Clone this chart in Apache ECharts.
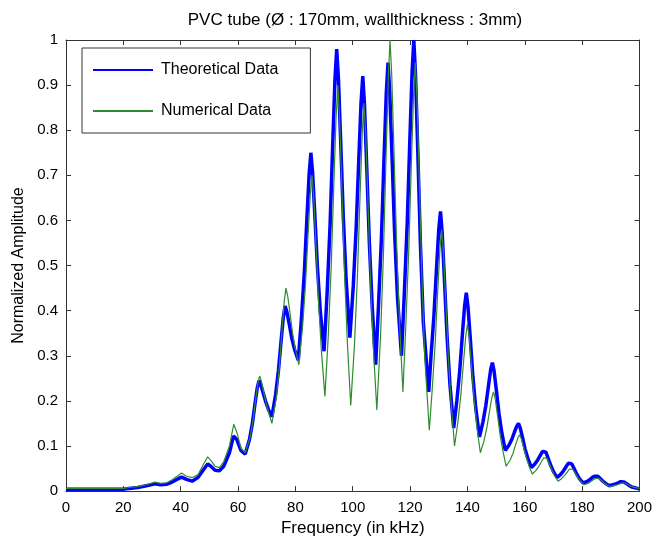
<!DOCTYPE html>
<html>
<head>
<meta charset="utf-8">
<script src="https://cdn.jsdelivr.net/npm/echarts@6/dist/echarts.min.js"></script>
<style>html,body{margin:0;padding:0;background:#fff}#c{width:655px;height:542px}</style>
</head>
<body>
<div id="c"></div>
<script>
var titleText = 'PVC tube (Ø : 170mm, wallthickness : 3mm)';
var xName = 'Frequency (in kHz)';
var yName = 'Normalized Amplitude';
var seriesNames = ['Theoretical Data', 'Numerical Data'];

var thFreq = [0,10,20,22,25,28,31,33,35,37,39,40.3,42,44,46,48,49.4,50.5,52,53.5,55,57,58.4,59.5,61,62.5,
  64.0,65.0,65.9,66.7,67.3,67.9,68.7,69.6,70.6,71.8,
  73.1,74.1,75.0,75.8,76.4,77.0,77.8,78.7,79.7,81,
  82.1,83.1,84.0,84.8,85.4,86.0,86.8,87.7,88.7,90,
  91.1,92.1,93.0,93.8,94.4,95.0,95.8,96.7,97.7,99,
  100.2,101.2,102.1,102.9,103.5,104.1,104.9,105.8,106.8,108,
  109.0,110.0,110.9,111.7,112.3,112.9,113.7,114.6,115.6,117,
  118.0,119.0,119.9,120.7,121.3,121.9,122.7,123.6,124.6,126.5,
  127.3,128.3,129.2,130.0,130.6,131.2,132.0,132.9,133.9,135.2,
  136.3,137.3,138.2,139.0,139.6,140.2,141.0,141.9,142.9,144.2,
  145.4,146.4,147.3,148.1,148.7,149.3,150.1,151.0,152.0,153.2,
  154.5,155.5,156.4,157.2,157.8,158.4,159.2,160.1,161.1,162.3,
  163.5,164.5,165.4,166.2,166.8,167.4,168.2,169.1,170.1,171.3,
  172.5,173.5,174.4,175.2,175.8,176.4,177.2,178.1,179.1,180.3,
  181.6,182.6,183.5,184.3,184.9,185.5,186.3,187.2,188.2,189.5,
  190.7,191.7,192.6,193.4,194.0,194.6,195.4,196.3,197.3,200];
var thAmp = [0.004,0.004,0.004,0.006,0.008,0.012,0.016,0.014,0.015,0.02,0.027,0.031,0.026,0.022,0.03,0.048,0.06,0.055,0.046,0.045,0.055,0.085,0.122,0.115,0.09,0.082,
  0.115,0.150,0.193,0.229,0.245,0.237,0.219,0.199,0.181,0.165,
  0.214,0.268,0.332,0.386,0.41,0.398,0.372,0.340,0.314,0.29,
  0.382,0.483,0.603,0.704,0.75,0.706,0.609,0.495,0.398,0.31,
  0.444,0.591,0.766,0.913,0.98,0.916,0.775,0.609,0.468,0.34,
  0.456,0.584,0.734,0.862,0.92,0.856,0.715,0.549,0.408,0.28,
  0.414,0.561,0.736,0.883,0.95,0.885,0.742,0.573,0.43,0.30,
  0.44,0.594,0.776,0.93,1.0,0.922,0.75,0.548,0.376,0.22,
  0.30,0.388,0.492,0.58,0.62,0.572,0.466,0.342,0.236,0.14,
  0.20,0.266,0.344,0.41,0.44,0.408,0.338,0.254,0.184,0.12,
  0.153,0.189,0.232,0.269,0.285,0.266,0.223,0.172,0.129,0.09,
  0.102,0.115,0.131,0.144,0.15,0.14,0.119,0.093,0.072,0.052,
  0.06,0.069,0.079,0.088,0.092,0.086,0.072,0.056,0.042,0.03,
  0.037,0.045,0.054,0.062,0.065,0.06,0.05,0.038,0.027,0.018,
  0.021,0.025,0.03,0.033,0.035,0.033,0.028,0.022,0.017,0.012,
  0.014,0.016,0.018,0.021,0.022,0.02,0.017,0.013,0.009,0.005];

var numFreq = [0,10,20,22,25,28,31,33,35,37,39,40.3,42,44,46,48,49.4,50.5,52,53.5,55,57,58.5,59.6,61,62.5,
  64.2,65.2,66.1,66.9,67.5,68.1,68.9,69.8,70.8,71.8,
  73.4,74.4,75.3,76.1,76.7,77.3,78.1,79.0,80.0,81.2,
  82.5,83.5,84.4,85.2,85.8,86.4,87.2,88.1,89.1,90.3,
  91.5,92.5,93.4,94.2,94.8,95.4,96.2,97.1,98.1,99.3,
  100.6,101.6,102.5,103.3,103.9,104.5,105.3,106.2,107.2,108.4,
  109.7,110.7,111.6,112.4,113.0,113.6,114.4,115.3,116.3,117.5,
  118.5,119.5,120.4,121.2,121.8,122.4,123.2,124.1,125.1,126.7,
  127.7,128.7,129.6,130.4,131.0,131.6,132.4,133.3,134.3,135.5,
  136.7,137.7,138.6,139.4,140.0,140.6,141.4,142.3,143.3,144.5,
  145.8,146.8,147.7,148.5,149.1,149.7,150.5,151.4,152.4,153.5,
  154.9,155.9,156.8,157.6,158.2,158.8,159.6,160.5,161.5,162.6,
  163.9,164.9,165.8,166.6,167.2,167.8,168.6,169.5,170.5,171.6,
  172.9,173.9,174.8,175.6,176.2,176.8,177.6,178.5,179.5,180.6,
  182.0,183.0,183.9,184.7,185.3,185.9,186.7,187.6,188.6,189.8,
  191.1,192.1,193.0,193.8,194.4,195.0,195.8,196.7,197.7,200];
var numAmp = [0.006,0.006,0.006,0.008,0.01,0.014,0.02,0.017,0.018,0.025,0.034,0.04,0.033,0.03,0.036,0.06,0.076,0.068,0.055,0.052,0.065,0.1,0.148,0.13,0.095,0.085,
  0.119,0.156,0.201,0.238,0.255,0.245,0.221,0.194,0.171,0.15,
  0.21,0.276,0.354,0.42,0.45,0.433,0.396,0.351,0.314,0.28,
  0.364,0.456,0.566,0.658,0.70,0.651,0.543,0.416,0.308,0.21,
  0.348,0.50,0.679,0.831,0.90,0.829,0.673,0.488,0.332,0.19,
  0.324,0.471,0.646,0.793,0.86,0.792,0.642,0.466,0.316,0.18,
  0.344,0.524,0.738,0.918,1.0,0.922,0.75,0.548,0.376,0.22,
  0.366,0.527,0.716,0.877,0.95,0.869,0.689,0.477,0.298,0.135,
  0.224,0.322,0.438,0.536,0.58,0.532,0.426,0.302,0.196,0.10,
  0.154,0.213,0.284,0.343,0.37,0.342,0.279,0.205,0.142,0.085,
  0.112,0.142,0.177,0.207,0.22,0.204,0.167,0.124,0.088,0.055,
  0.069,0.084,0.103,0.118,0.125,0.116,0.097,0.075,0.055,0.038,
  0.046,0.055,0.065,0.074,0.078,0.072,0.06,0.046,0.033,0.022,
  0.028,0.035,0.042,0.049,0.052,0.048,0.04,0.03,0.022,0.014,
  0.017,0.021,0.025,0.028,0.03,0.028,0.024,0.018,0.014,0.01,
  0.012,0.014,0.016,0.018,0.019,0.018,0.015,0.012,0.009,0.006];

function pairs(xs, ys) { return xs.map(function (x, i) { return [x, ys[i]]; }); }

var FONT = "'Liberation Sans', Arial, Helvetica, sans-serif";
var AX = '#333333';
var chart = echarts.init(document.getElementById('c'), null, {renderer: 'canvas'});
var tickInside = {show: true, inside: true, length: 5, lineStyle: {color: AX, width: 1}};
chart.setOption({
  animation: false,
  backgroundColor: '#ffffff',
  title: {
    text: titleText, left: 350, top: 7, textAlign: 'center',
    textStyle: {fontFamily: FONT, fontSize: 17, fontWeight: 'normal', color: '#000'}
  },
  legend: {
    orient: 'vertical', left: 82, top: 48,
    padding: [14, 32, 14, 10],
    itemWidth: 60, itemHeight: 14, itemGap: 25,
    backgroundColor: '#fff', borderColor: AX, borderWidth: 1, borderRadius: 0,
    itemStyle: {opacity: 0},
    textStyle: {fontFamily: FONT, fontSize: 16, color: '#000', padding: [0, 0, 0, 3]},
    data: seriesNames
  },
  grid: {left: 66, right: 15, top: 40, bottom: 50, containLabel: false},
  xAxis: [{
    type: 'value', min: 0, max: 200, interval: 20, position: 'bottom',
    name: xName, nameLocation: 'middle', nameGap: 28,
    nameTextStyle: {fontFamily: FONT, fontSize: 17, color: '#000'},
    axisLine: {show: true, onZero: false, lineStyle: {color: AX, width: 1}},
    axisTick: tickInside,
    axisLabel: {fontFamily: FONT, fontSize: 15, color: '#000', margin: 9},
    splitLine: {show: false}
  }, {
    type: 'value', min: 0, max: 200, interval: 20, position: 'top',
    axisLine: {show: true, onZero: false, lineStyle: {color: AX, width: 1}},
    axisTick: tickInside, axisLabel: {show: false}, splitLine: {show: false}
  }],
  yAxis: [{
    type: 'value', min: 0, max: 1, interval: 0.1, position: 'left',
    name: yName, nameLocation: 'middle', nameGap: 38,
    nameTextStyle: {fontFamily: FONT, fontSize: 16, color: '#000'},
    axisLine: {show: true, onZero: false, lineStyle: {color: AX, width: 1}},
    axisTick: tickInside,
    axisLabel: {fontFamily: FONT, fontSize: 15, color: '#000', margin: 8},
    splitLine: {show: false}
  }, {
    type: 'value', min: 0, max: 1, interval: 0.1, position: 'right',
    axisLine: {show: true, onZero: false, lineStyle: {color: AX, width: 1}},
    axisTick: tickInside, axisLabel: {show: false}, splitLine: {show: false}
  }],
  series: [{
    name: seriesNames[0], type: 'line', xAxisIndex: 0, yAxisIndex: 0,
    data: pairs(thFreq, thAmp), showSymbol: false, symbol: 'none',
    lineStyle: {color: '#0000ff', width: 3.5}, itemStyle: {color: '#0000ff'}, z: 2
  }, {
    name: seriesNames[1], type: 'line', xAxisIndex: 0, yAxisIndex: 0,
    data: pairs(numFreq, numAmp), showSymbol: false, symbol: 'none',
    lineStyle: {color: '#2e8b2e', width: 1.2}, itemStyle: {color: '#2e8b2e'}, z: 3
  }]
});
</script>
</body>
</html>
